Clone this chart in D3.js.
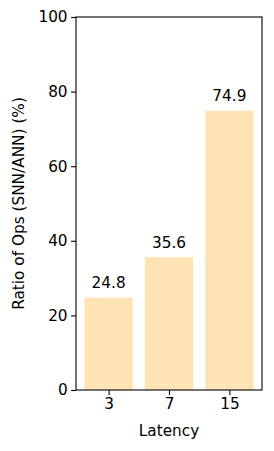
<!DOCTYPE html>
<html><head><meta charset="utf-8">
<script src="https://cdn.jsdelivr.net/npm/d3@7"></script>
<style>body{margin:0;background:#fff}svg{display:block}text{font-family:"DejaVu Sans",sans-serif}</style>
</head><body>
<svg id="c" width="274" height="451"></svg>
<script>
const categories = ["3","7","15"];
const values = [24.8, 35.6, 74.9];
const yTicks = [0,20,40,60,80,100];

const FS = "15.3px";
const svg = d3.select("#c");
const m = {left:76, right:262, top:17, bottom:390};
const x = d3.scaleLinear().domain([-0.54, 2.54]).range([m.left, m.right]);
const y = d3.scaleLinear().domain([0,100]).range([m.bottom, m.top]);
const bw = 0.8;

svg.selectAll("rect.bar").data(values).enter().append("rect")
  .attr("class","bar")
  .attr("x",(d,i)=>x(i-bw/2)).attr("width",(d,i)=>x(i+bw/2)-x(i-bw/2))
  .attr("y",d=>y(d)).attr("height",d=>y(0)-y(d))
  .attr("fill","#fee4b5");

svg.selectAll("text.val").data(values).enter().append("text")
  .attr("class","val").attr("x",(d,i)=>x(i)).attr("y",d=>y(d)-9.5)
  .attr("text-anchor","middle").attr("font-size",FS).attr("fill","#000")
  .text(d=>d.toFixed(1));

const yAxis = svg.append("g").attr("transform",`translate(${m.left},0)`)
  .call(d3.axisLeft(y).tickValues(yTicks).tickSize(4.9).tickPadding(3.5));
const xAxis = svg.append("g").attr("transform",`translate(0,${m.bottom})`)
  .call(d3.axisBottom(x).tickValues([0,1,2]).tickFormat(i=>categories[i]).tickSize(4.9).tickPadding(3.5));
[yAxis,xAxis].forEach(g=>{
  g.select(".domain").remove();
  g.selectAll("text").attr("font-size",FS).attr("fill","#000").style("font-family","DejaVu Sans");
  g.selectAll("line").attr("stroke","#000").attr("stroke-width",1.1);
});
svg.append("rect").attr("x",m.left).attr("y",m.top).attr("width",m.right-m.left).attr("height",m.bottom-m.top)
  .attr("fill","none").attr("stroke","#000").attr("stroke-width",1.1);

svg.append("text").attr("x",(m.left+m.right)/2).attr("y",436).attr("text-anchor","middle")
  .attr("font-size",FS).text("Latency");
svg.append("text").attr("transform",`translate(23.5,${(m.top+m.bottom)/2}) rotate(-90)`)
  .attr("text-anchor","middle").attr("font-size",FS).text("Ratio of Ops (SNN/ANN) (%)");
</script>
</body></html>
